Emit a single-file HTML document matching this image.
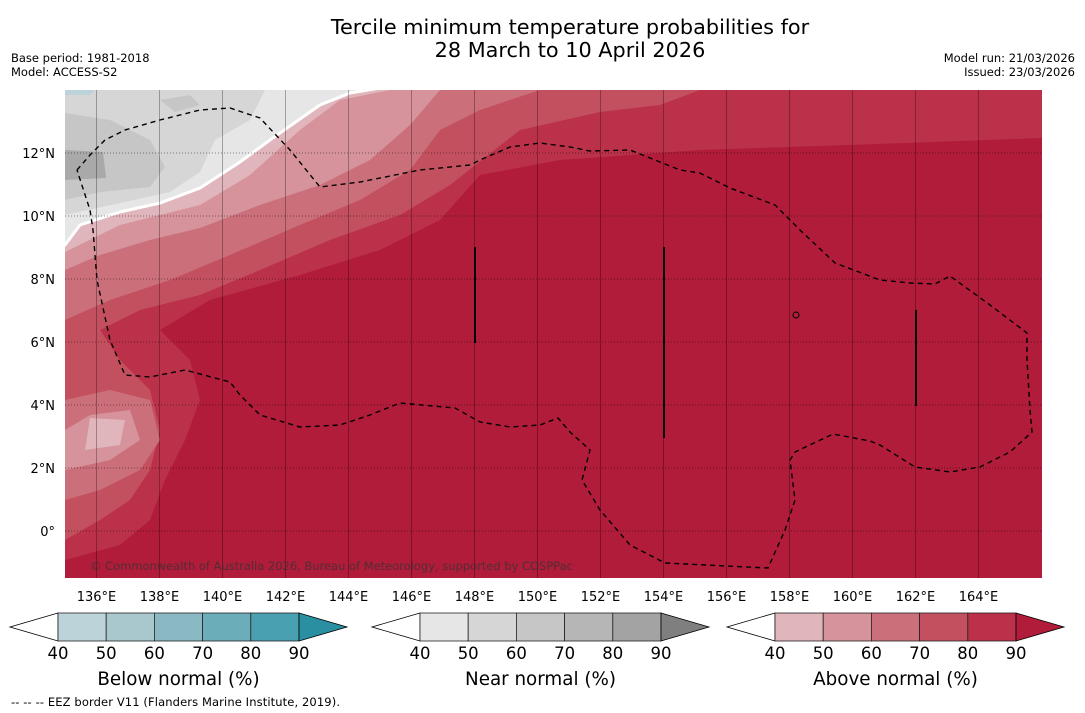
<!DOCTYPE html>
<html><head><meta charset="utf-8"><style>
body{margin:0;background:#fff;font-family:"Liberation Sans","DejaVu Sans",sans-serif}
svg{display:block}
</style></head><body>
<svg id="s" width="1085" height="713" viewBox="0 0 1085 713" font-family="DejaVu Sans, Liberation Sans, sans-serif">
<text x="570" y="34" font-size="20.8" text-anchor="middle">Tercile minimum temperature probabilities for</text>
<text x="570" y="57" font-size="20.8" text-anchor="middle">28 March to 10 April 2026</text>
<text x="11" y="62" font-size="11.5">Base period: 1981-2018</text>
<text x="11" y="76" font-size="11.5">Model: ACCESS-S2</text>
<text x="1075" y="62" font-size="11.5" text-anchor="end">Model run: 21/03/2026</text>
<text x="1075" y="76" font-size="11.5" text-anchor="end">Issued: 23/03/2026</text>
<defs><clipPath id="mc"><rect x="65" y="90" width="977" height="488"/></clipPath></defs>
<g clip-path="url(#mc)">
<rect x="65" y="90" width="977" height="488" fill="#b01c39"/>
<polygon fill="#bb3149" points="65,560 120,545 150,520 165,480 185,440 200,400 190,360 160,330 210,300 300,275 380,250 440,220 480,175 560,160 700,150 850,145 1042,138 1042,90 65,90"/>
<polygon fill="#c3505f" points="65,540 100,520 130,500 150,470 160,430 150,390 120,360 100,330 140,310 200,295 260,270 330,240 400,215 450,185 520,130 600,112 660,105 700,90 65,90"/>
<polygon fill="#cb6f7b" points="65,320 110,300 170,280 230,255 300,225 360,200 410,170 440,130 480,110 540,90 65,90"/>
<polygon fill="#cb6f7b" points="65,500 100,490 140,470 160,440 150,400 110,390 65,400"/>
<polygon fill="#d6939b" points="65,470 110,460 140,440 130,410 90,415 65,430"/>
<polygon fill="#e0b5bc" points="85,450 120,445 125,420 90,418"/>
<polygon fill="#d6939b" points="65,270 100,255 150,240 200,228 260,205 320,185 370,160 410,125 440,90 65,90"/>
<polygon fill="#e0b5bc" points="65,252 120,225 200,205 250,175 300,130 340,100 390,90 65,90"/>
<polygon fill="#e6e6e6" stroke="#fff" stroke-width="3" points="65,245 80,225 120,212 160,203 200,188 240,162 270,140 320,105 350,93 380,88 60,88 60,245"/>
<polygon fill="#d6d6d6" points="65,215 120,203 170,192 200,172 215,140 250,120 265,90 65,90"/>
<polygon fill="#c6c6c6" points="65,200 100,192 150,187 165,167 150,140 110,120 65,113"/>
<polygon fill="#c6c6c6" points="160,100 190,95 200,105 175,112"/>
<polygon fill="#a9a9a9" points="65,150 103,152 106,178 65,180"/>
<polygon fill="#bdd3da" points="65,90 95,90 90,95 65,95"/>
<g id="grid"></g>
<polyline fill="none" stroke="#000" stroke-width="1.4" stroke-dasharray="5,4" points="77,170 90,155 105,140 125,130 160,120 200,110 230,108 260,118 290,150 320,187 360,182 420,170 470,165 480,160 510,147 540,143 570,147 590,151 630,150 660,162 680,170 700,173 730,188 775,205 800,230 835,263 880,280 910,283 935,284 950,276 990,305 1027,333 1027,360 1030,410 1032,432 1010,452 980,467 950,472 915,467 880,445 870,441 833,434 795,452 790,460 795,500 785,530 768,568 665,563 630,545 600,510 582,480 590,450 570,432 558,418 540,425 510,427 480,422 455,408 400,403 370,415 340,425 300,427 260,415 240,395 230,382 185,370 150,377 125,375 110,340 97,280 93,230 90,210 77,170"/>
<line x1="475" y1="247" x2="475" y2="343" stroke="#000" stroke-width="2"/>
<line x1="664" y1="247" x2="664" y2="438" stroke="#000" stroke-width="2"/>
<line x1="916" y1="310" x2="916" y2="406" stroke="#000" stroke-width="2"/>
<circle cx="796" cy="315" r="3" fill="none" stroke="#000"/>
<text x="90" y="570" font-size="11.5" textLength="483" fill="#333" fill-opacity="0.75">© Commonwealth of Australia 2026, Bureau of Meteorology, supported by COSPPac</text>
</g>
<g id="ticks" font-size="13"></g>
<g id="cbars"></g>
<text x="11" y="706" font-size="11.5" textLength="329">--  --  -- EEZ border V11 (Flanders Marine Institute, 2019).</text>
</svg>
<script>
const lonTicks=[136,138,140,142,144,146,148,150,152,154,156,158,160,162,164];
const latTicks=[0,2,4,6,8,10,12];
const cbLevels=["40","50","60","70","80","90"];
const cbTitles=["Below normal (%)","Near normal (%)","Above normal (%)"];
const cbColors=[
 ["#bdd3da","#a8c8cd","#8bb9c3","#6cadba","#48a0b0","#2a8fa0"],
 ["#e6e6e6","#d6d6d6","#c6c6c6","#b6b6b6","#a3a3a3","#7f7f7f"],
 ["#e0b5bc","#d6939b","#cb6f7b","#c3505f","#bb3149","#b01c39"]];
const cbStart=[58,420,775];
const NS="http://www.w3.org/2000/svg";
const xL=lon=>65+(lon-135)*31.5, yL=lat=>531-lat*31.5;
function mk(t,a,p){const e=document.createElementNS(NS,t);for(const k in a)e.setAttribute(k,a[k]);p.appendChild(e);return e;}
const grid=document.getElementById('grid'),ticks=document.getElementById('ticks');
lonTicks.forEach(l=>{const e=mk('line',{x1:xL(l),x2:xL(l),y1:90,y2:578,stroke:'#000','stroke-opacity':0.3,'stroke-width':1},grid);


const t=mk('text',{x:xL(l),y:601,'text-anchor':'middle'},ticks);t.textContent=l+'°E';

});
latTicks.forEach(l=>{const e=mk('line',{x1:65,x2:1042,y1:yL(l),y2:yL(l),stroke:'#000','stroke-opacity':0.45,'stroke-width':1,'stroke-dasharray':'1,2'},grid);


const t=mk('text',{x:55,y:yL(l)+5,'text-anchor':'end'},ticks);t.textContent=l===0?'0°':l+'°N';

});
const cb=document.getElementById('cbars');
cbStart.forEach((x0,i)=>{const w=48.2,y0=613,h=28,cols=cbColors[i];
const g=mk('g',{},cb);


const tl=mk('polygon',{points:`${x0},${y0} ${x0-48},${y0+h/2} ${x0},${y0+h}`,fill:'#fff',stroke:'#000','stroke-width':0.8},g);


for(let k=0;k<5;k++){const r=mk('rect',{x:x0+k*w,y:y0,width:w,height:h,fill:cols[k],stroke:'#222','stroke-width':0.8},g);

}
const xe=x0+5*w;
const tr=mk('polygon',{points:`${xe},${y0} ${xe+48},${y0+h/2} ${xe},${y0+h}`,fill:cols[5],stroke:'#000','stroke-width':0.8},g);


cbLevels.forEach((v,k)=>{const t=mk('text',{x:x0+k*w,y:659,'font-size':16.5,'text-anchor':'middle'},g);t.textContent=v;

});
const tt=mk('text',{x:x0+2.5*w,y:685,'font-size':18.3,'text-anchor':'middle'},g);tt.textContent=cbTitles[i];

});
</script>
</body></html>
